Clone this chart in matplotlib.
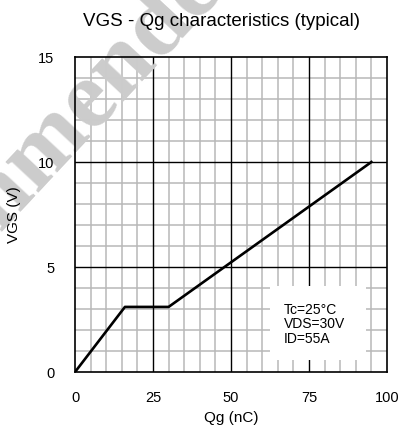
import numpy as np
import matplotlib.pyplot as plt
from matplotlib.patches import Rectangle

plt.rcParams['font.family'] = ['Liberation Sans', 'DejaVu Sans']

# gate charge curve (nC, V)
qg = [0, 16, 30, 95]
vgs = [0, 3.1, 3.1, 10]

x_ticks = [0, 25, 50, 75, 100]
y_ticks = [0, 5, 10, 15]
conditions = ['Tc=25°C', 'VDS=30V', 'ID=55A']

fig = plt.figure(figsize=(4.02, 4.37), dpi=100)
ax = fig.add_axes([0.1866, 0.1487, 0.776, 0.7208])

ax.set_xlim(0, 100)
ax.set_ylim(0, 15)
ax.set_xticks(x_ticks)
ax.set_yticks(y_ticks)
ax.set_axisbelow(False)

# grid drawn by hand so the stamp can sit between grid and labels
for x in np.arange(5, 100, 5):
    major = x % 25 == 0
    ax.axvline(x, color='black' if major else '#b8b8b8',
               lw=1.0 if major else 1.1, zorder=0.8 + 0.05 * major)
for y in np.arange(1, 15, 1):
    major = y % 5 == 0
    ax.axhline(y, color='black' if major else '#b8b8b8',
               lw=1.0 if major else 1.1, zorder=0.8 + 0.05 * major)

ax.tick_params(which='both', length=0)
ax.tick_params(axis='x', labelsize=10.5, pad=14)
ax.tick_params(axis='y', labelsize=10.5, pad=15)
for s in ax.spines.values():
    s.set_linewidth(1.2)

# white patch behind the test conditions
ax.add_patch(Rectangle((62.5, 0.57), 30.8, 3.55, facecolor='white',
                       edgecolor='none', zorder=1.0))
ax.text(67, 3.3, '\n'.join(conditions), fontsize=10, va='top', ha='left',
        linespacing=1.05, zorder=3)

ax.plot(qg, vgs, color='black', lw=1.9, zorder=2)

ax.set_xlabel('Qg (nC)', fontsize=11, labelpad=4)
ax.set_ylabel('VGS (V)', fontsize=11, labelpad=12)
ax.set_title('VGS - Qg characteristics (typical)', fontsize=13.5, pad=22,
             x=0.47)

# grey stamp across the top left
ax.text(0.085, 0.632, 'Recommended', transform=fig.transFigure, clip_on=False,
        family='Liberation Serif', weight='bold', fontsize=70, color='#cccccc',
        rotation=47, ha='center', va='center', rotation_mode='anchor',
        zorder=1.5)

fig.savefig('out.png', dpi=100)
